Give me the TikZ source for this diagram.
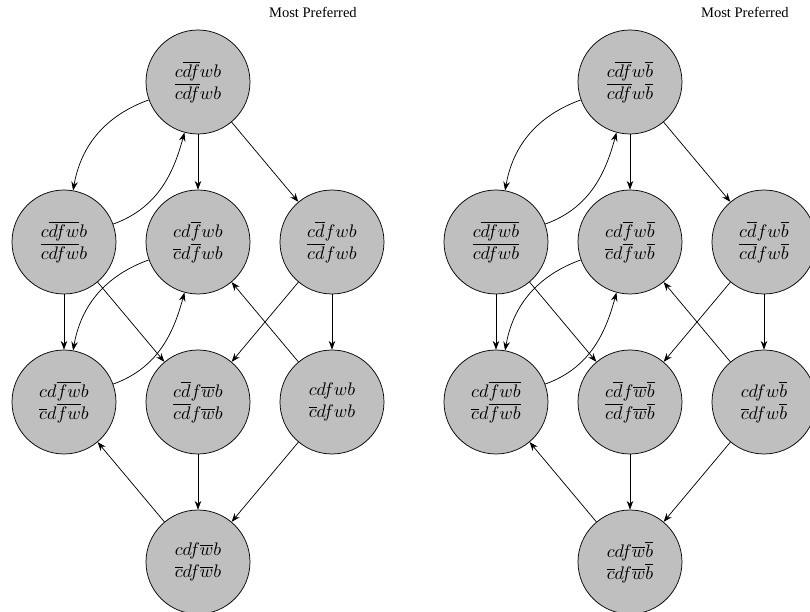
\documentclass[tikz,border=0pt]{standalone}
\usepackage{fontspec}
\setmainfont{Liberation Serif}
\usepackage{amsmath}
\usetikzlibrary{positioning,arrows.meta}

\begin{document}
\begin{tikzpicture}[node distance=88pt and 73.7pt,on grid,
        state/.style={draw,circle,fill=lightgray,minimum size=57.2pt,inner sep=0pt,align=center}]
    \useasboundingbox (-108.9pt,45.1pt) rectangle (336.6pt,-291.5pt);
    % left graph
    \node[state] (t) {$c\overline{df}wb$\\$\overline{cdf}wb$};
    \node[state,below=of t] (m) {$cd\overline{f}wb$\\$\overline{c}d\overline{f}wb$};
    \node[state,left=of m] (l) {$c\overline{dfw}b$\\$\overline{cdfw}b$};
    \node[state,right=of m] (r) {$c\overline{d}fwb$\\$\overline{cd}fwb$};
    \node[state,below=of l] (dl) {$cd\overline{fw}b$\\$\overline{c}d\overline{fw}b$};
    \node[state,below=of m] (dm) {$c\overline{d}f\overline{w}b$\\$\overline{cd}f\overline{w}b$};
    \node[state,below=of r] (dr) {$cdfwb$\\$\overline{c}dfwb$};
    \node[state,below=of dm] (b) {$cdf\overline{w}b$\\$\overline{c}df\overline{w}b$};
    \node[above right=38.5pt and 63.2pt of t,font=\footnotesize] (best) {Most Preferred};
    \path[-Stealth]
        (t)
            edge[out=200,in=80] (l)
            edge (m)
            edge (r)
        (l)
            edge[out=20,in=255] (t)
            edge (dl)
            edge (dm)
        (m)
            edge[out=200,in=80] (dl)
        (r)
            edge (dm)
            edge (dr)
        (dl)
            edge[out=20,in=255] (m)
        (dr)
            edge (m)
            edge (b)
        (dm)
            edge (b)
        (b)
            edge (dl);
    % right graph
    \node[state,right=237.6pt of t] (t2) {$c\overline{df}w\overline{b}$\\$\overline{cdf}w\overline{b}$};
    \node[state,below=of t2] (m2) {$cd\overline{f}w\overline{b}$\\$\overline{c}d\overline{f}w\overline{b}$};
    \node[state,left=of m2] (l2) {$c\overline{dfwb}$\\$\overline{cdfwb}$};
    \node[state,right=of m2] (r2) {$c\overline{d}fw\overline{b}$\\$\overline{cd}fw\overline{b}$};
    \node[state,below=of l2] (dl2) {$cd\overline{fwb}$\\$\overline{c}d\overline{fwb}$};
    \node[state,below=of m2] (dm2) {$c\overline{d}f\overline{w}\overline{b}$\\$\overline{cd}f\overline{w}\overline{b}$};
    \node[state,below=of r2] (dr2) {$cdfw\overline{b}$\\$\overline{c}dfw\overline{b}$};
    \node[state,below=of dm2] (b2) {$cdf\overline{w}\overline{b}$\\$\overline{c}df\overline{w}\overline{b}$};
    \node[above right=38.5pt and 63.2pt of t2,font=\footnotesize] (best2) {Most Preferred};
    \path[-Stealth]
        (t2)
            edge[out=200,in=80] (l2)
            edge (m2)
            edge (r2)
        (l2)
            edge[out=20,in=255] (t2)
            edge (dl2)
            edge (dm2)
        (m2)
            edge[out=200,in=80] (dl2)
        (r2)
            edge (dm2)
            edge (dr2)
        (dl2)
            edge[out=20,in=255] (m2)
        (dr2)
            edge (m2)
            edge (b2)
        (dm2)
            edge (b2)
        (b2)
            edge (dl2);
\end{tikzpicture}
\end{document}
